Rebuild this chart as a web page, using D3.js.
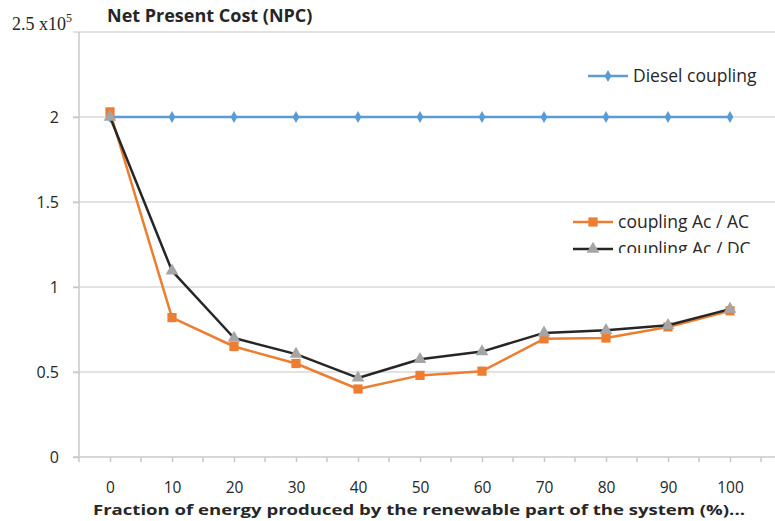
<!DOCTYPE html>
<html>
<head>
<meta charset="utf-8">
<script src="https://cdn.jsdelivr.net/npm/d3@7"></script>
<style>
  body { margin: 0; background: #fff; }
  text { font-family: "Open Sans", "Noto Sans", sans-serif; fill: #262626; }
</style>
</head>
<body>
<div id="chart-area"></div>
<script>
// values in units of 10^5
var categories = [0, 10, 20, 30, 40, 50, 60, 70, 80, 90, 100];
var diesel = [2, 2, 2, 2, 2, 2, 2, 2, 2, 2, 2];
var acAc = [2.03, 0.82, 0.65, 0.55, 0.40, 0.48, 0.505, 0.695, 0.70, 0.765, 0.86];
var acDc = [2.0, 1.095, 0.70, 0.605, 0.465, 0.575, 0.62, 0.73, 0.745, 0.775, 0.87];
var yTicks = [0, 0.5, 1, 1.5, 2];

var width = 775, height = 521;
var plot = { left: 79, right: 761, top: 32, bottom: 457 };

var svg = d3.select("#chart-area")
    .append("svg")
        .attr("width", width)
        .attr("height", height);

var x = d3.scalePoint()
    .domain(categories)
    .range([plot.left, plot.right])
    .padding(0.5);

var y = d3.scaleLinear()
    .domain([0, 2.5])
    .range([plot.bottom, plot.top]);

// Grid lines (run to the right edge)
svg.append("g").selectAll("line")
    .data(yTicks.concat([2.5]).filter(function(d){ return d > 0; }))
    .enter().append("line")
        .attr("x1", plot.left - 6)
        .attr("x2", width)
        .attr("y1", function(d){ return y(d); })
        .attr("y2", function(d){ return y(d); })
        .attr("stroke", "#d9d9d9")
        .attr("stroke-width", 1.5);

// Y Axis
var yAxisCall = d3.axisLeft(y)
    .tickValues(yTicks)
    .tickSize(6)
    .tickPadding(14)
    .tickFormat(function(d){ return d; });
var yAxisGroup = svg.append("g")
    .attr("transform", "translate(" + plot.left + ",0)")
    .call(yAxisCall);
yAxisGroup.select(".domain").remove();
yAxisGroup.append("line")
    .attr("y1", plot.top).attr("y2", plot.bottom + 5)
    .attr("stroke", "#c8c8c8").attr("stroke-width", 1.5);
yAxisGroup.selectAll(".tick line").attr("stroke", "#c8c8c8").attr("stroke-width", 1.5);
yAxisGroup.selectAll("text")
    .attr("font-size", "16px")
    .attr("font-family", "Open Sans, sans-serif")
    .attr("fill", "#262626");

// X Axis
var xAxisCall = d3.axisBottom(x)
    .tickSize(5)
    .tickPadding(20);
var xAxisGroup = svg.append("g")
    .attr("transform", "translate(0," + plot.bottom + ")")
    .call(xAxisCall);
xAxisGroup.select(".domain").remove();
xAxisGroup.append("line")
    .attr("x1", plot.left - 6).attr("x2", width)
    .attr("stroke", "#c8c8c8").attr("stroke-width", 1.5);
xAxisGroup.selectAll(".tick line").attr("stroke", "#c8c8c8").attr("stroke-width", 1.5);
xAxisGroup.selectAll("text")
    .attr("font-size", "15.5px")
    .attr("font-family", "Open Sans, sans-serif")
    .attr("fill", "#262626");
// boundary ticks between categories
xAxisGroup.selectAll(".btick")
    .data(categories)
    .enter().append("line")
        .attr("x1", function(d){ return x(d) + x.step() / 2; })
        .attr("x2", function(d){ return x(d) + x.step() / 2; })
        .attr("y1", 0).attr("y2", 5)
        .attr("stroke", "#c8c8c8").attr("stroke-width", 1.5);

// Series
var line = d3.line()
    .x(function(d, i){ return x(categories[i]); })
    .y(function(d){ return y(d); });

var diamond = d3.symbol().type(d3.symbolDiamond).size(40);
var square = d3.symbol().type(d3.symbolSquare).size(85);
var triangle = d3.symbol().type(d3.symbolTriangle).size(70);

function drawSeries(values, lineColor, markerColor, sym) {
    svg.append("path")
        .attr("d", line(values))
        .attr("fill", "none")
        .attr("stroke", lineColor)
        .attr("stroke-width", 2.5)
        .attr("stroke-linejoin", "round");
    svg.append("g").selectAll("path")
        .data(values)
        .enter().append("path")
            .attr("d", sym)
            .attr("transform", function(d, i){ return "translate(" + x(categories[i]) + "," + y(d) + ")"; })
            .attr("fill", markerColor);
}

drawSeries(diesel, "#5b9bd5", "#5b9bd5", diamond);
drawSeries(acAc, "#ed7d31", "#ed7d31", square);
drawSeries(acDc, "#262626", "#a5a5a5", triangle);

// Legends
function legendItem(g, ly, color, markerColor, sym, label) {
    g.append("line")
        .attr("x1", 0).attr("x2", 40)
        .attr("y1", ly).attr("y2", ly)
        .attr("stroke", color).attr("stroke-width", 2.5);
    g.append("path")
        .attr("d", sym)
        .attr("transform", "translate(20," + ly + ")")
        .attr("fill", markerColor);
    g.append("text")
        .attr("x", 45).attr("y", ly)
        .attr("dy", "0.35em")
        .attr("font-size", "17.5px")
        .text(label);
}

var leg1 = svg.append("g").attr("transform", "translate(588,0)");
legendItem(leg1, 76, "#5b9bd5", "#5b9bd5", diamond, "Diesel coupling");

svg.append("clipPath").attr("id", "legclip")
    .append("rect").attr("x", 560).attr("y", 205).attr("width", 215).attr("height", 48);
var leg2 = svg.append("g").attr("clip-path", "url(#legclip)")
    .append("g").attr("transform", "translate(573,0)");
legendItem(leg2, 222, "#ed7d31", "#ed7d31", square, "coupling Ac / AC");
legendItem(leg2, 249, "#262626", "#a5a5a5", triangle, "coupling Ac / DC");

// Title
svg.append("text")
    .attr("x", 107).attr("y", 22)
    .attr("font-size", "18px")
    .attr("font-weight", "bold")
    .text("Net Present Cost (NPC)");

// Y scale label
var sc = svg.append("text")
    .attr("x", 12).attr("y", 30)
    .attr("font-size", "18px")
    .style("font-family", "'Liberation Serif', serif");
sc.append("tspan").text("2.5 x10");
sc.append("tspan").attr("dy", -8).attr("font-size", "12px").text("5");

// X Label
svg.append("text")
    .attr("x", 93).attr("y", 515)
    .attr("font-size", "15px")
    .attr("font-weight", "bold")
    .attr("textLength", 652)
    .attr("lengthAdjust", "spacingAndGlyphs")
    .text("Fraction of energy produced by the renewable part of the system (%)...");
</script>
</body>
</html>
